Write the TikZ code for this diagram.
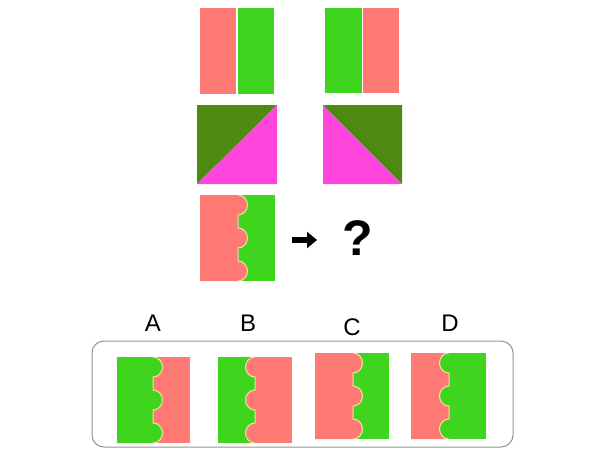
\documentclass[tikz,border=0pt]{standalone}
\usepackage{fontspec}
\setmainfont{Liberation Sans}
\usetikzlibrary{arrows.meta}

\definecolor{salmon}{HTML}{FF7A74}
\definecolor{lime}{HTML}{3FD41E}
\definecolor{darkleaf}{HTML}{4C8A10}
\definecolor{pinkish}{HTML}{FF45DC}
\definecolor{seam}{HTML}{F2E4A0}

% wavy seam: base x, top y, +1 bumps right / -1 bumps left
\newcommand\scallop[3]{%
  (#1,#2) arc[start angle=-90, delta angle=#3*180, x radius=9.5, y radius=10]
  -- ++(0,13) arc[start angle=-90, delta angle=#3*180, x radius=9.5, y radius=10]
  -- ++(0,13) arc[start angle=-90, delta angle=#3*180, x radius=9.5, y radius=10]}

% tile: left x, top y, seam x, right x, left colour, right colour, direction
\newcommand\tile[7]{%
  \fill[#6] (#1,#2) rectangle (#4,#2+86);
  \fill[#5] (#1,#2+86) -- (#1,#2) -- \scallop{#3}{#2}{#7} -- cycle;
  \draw[seam, line width=1pt] \scallop{#3}{#2}{#7};
}

\begin{document}
\begin{tikzpicture}[x=1pt, y=-1pt, line join=round,
  letter/.style={font=\fontsize{24}{28}\selectfont}]
	\useasboundingbox (0,0) rectangle (604,460);
	
	% row 1
	\fill[salmon] (200,8) rectangle (236,94);
	\fill[lime] (238,8) rectangle (274,94);
	\fill[lime] (325,8) rectangle (362,93);
	\fill[salmon] (363,8) rectangle (399,93);
	
	% row 2
	\fill[darkleaf] (197,105) -- (277,105) -- (197,184) -- cycle;
	\fill[pinkish] (277,105) -- (277,184) -- (197,184) -- cycle;
	\fill[pinkish] (323,105) -- (402,184) -- (323,184) -- cycle;
	\fill[darkleaf] (323,105) -- (402,105) -- (402,184) -- cycle;
	
	% row 3
	\tile{200}{195}{238}{275}{salmon}{lime}{1}
	\coordinate (arrS) at (292,240);
	\coordinate (arrE) at (317,240);
	\draw[line width=6pt, -{Triangle[length=10pt,width=16pt]}] (arrS) -- (arrE);
	\node[font=\bfseries\fontsize{50}{60}\selectfont] (quest) at (358,238) {?};
	
	% answers
	\draw[gray!85, line width=1pt, rounded corners=12pt] (92,341) rectangle (513,447);
	\foreach \lab/\x/\y in {A/153/323, B/248/323, C/352/327, D/450/323}
		\node[letter] (lab\lab) at (\x,\y) {\lab};
	\tile{117}{357}{153}{190}{lime}{salmon}{1}
	\tile{218}{357}{255}{292}{lime}{salmon}{-1}
	\tile{315}{353}{353}{389}{salmon}{lime}{1}
	\tile{411}{353}{449}{486}{salmon}{lime}{-1}
\end{tikzpicture}
\end{document}
